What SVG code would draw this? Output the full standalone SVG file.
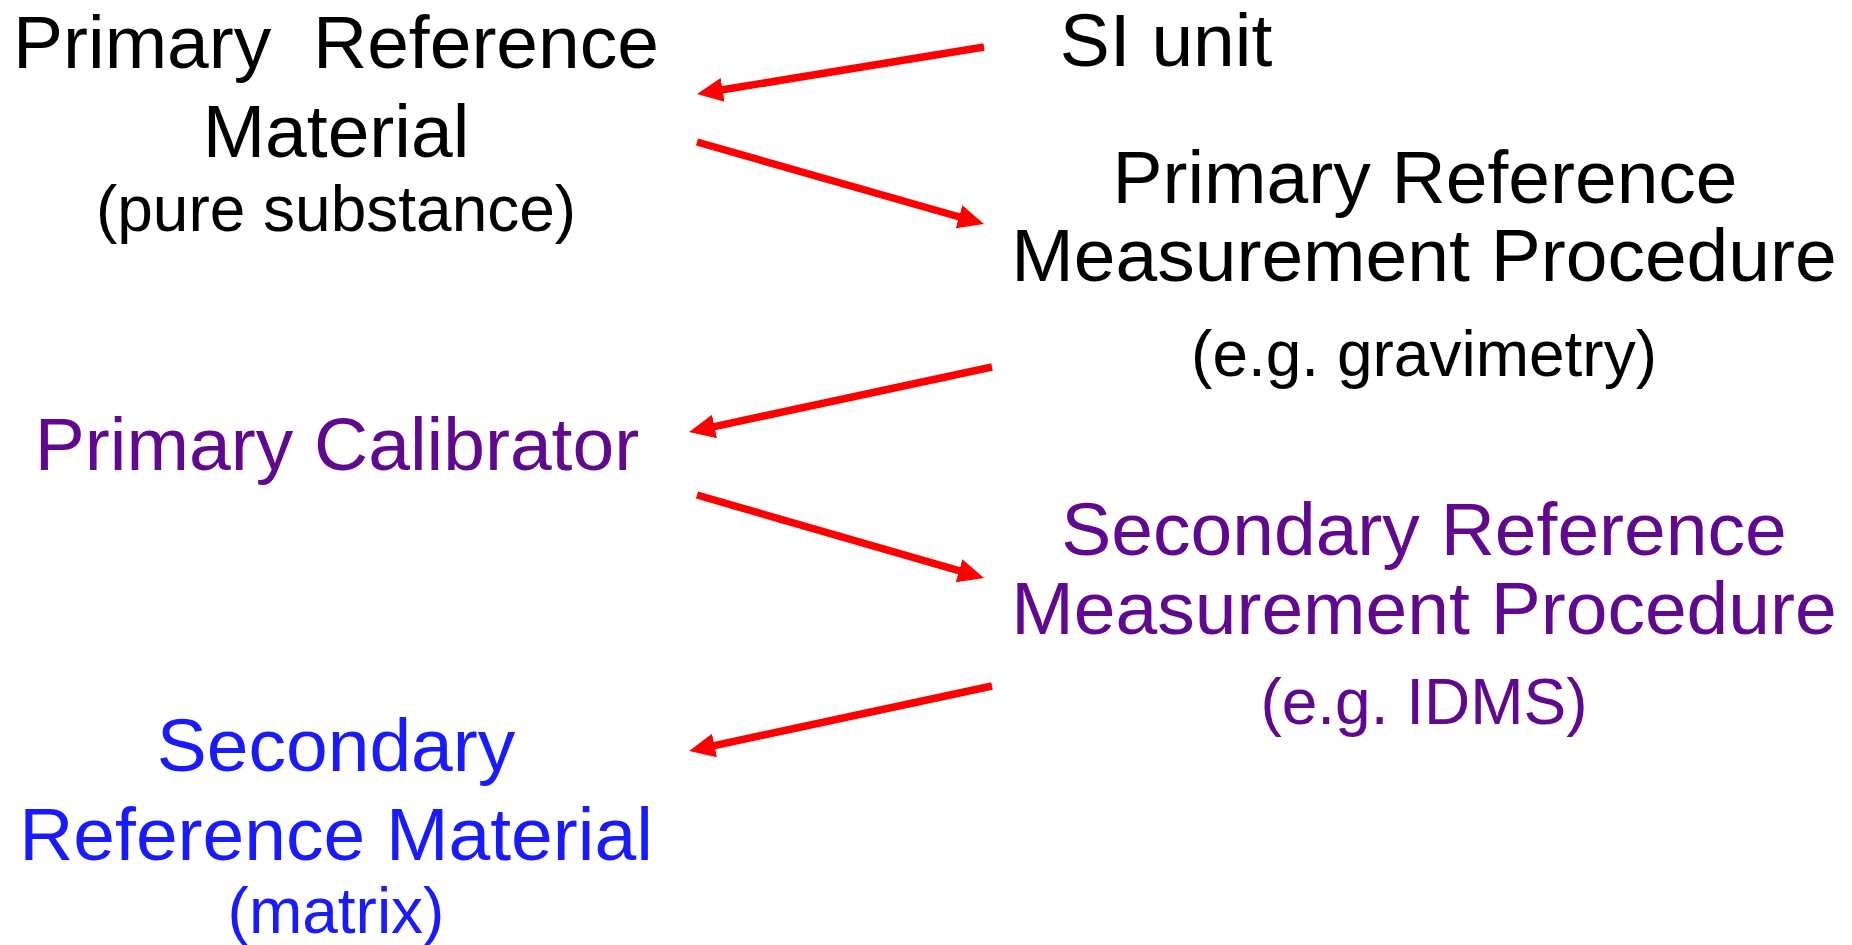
<svg xmlns="http://www.w3.org/2000/svg" width="1852" height="945" viewBox="0 0 1852 945">
<style>
text{font-family:"Liberation Sans",Arial,sans-serif;text-anchor:middle}
.big{font-size:75px}
.small{font-size:64px}
.k{fill:#000}
.p{fill:#600890}
.b{fill:#1a1aff}
.arr{stroke:#ff0000;stroke-width:7.5;fill:none;marker-end:url(#ah)}
</style>
<defs>
<marker id="ah" markerUnits="userSpaceOnUse" markerWidth="26" markerHeight="24" refX="6" refY="12" orient="auto">
<path d="M0,0 L26,12 L0,24 z" fill="#ff0000"/>
</marker>
</defs>
<rect width="1852" height="945" fill="#fff"/>
<g id="primary-reference-material">
<text class="big k" x="336" y="68" xml:space="preserve">Primary  Reference</text>
<text class="big k" x="336" y="157">Material</text>
<text class="small k" x="336" y="231">(pure substance)</text>
</g>
<g id="si-unit">
<text class="big k" x="1166" y="66">SI unit</text>
</g>
<g id="primary-reference-measurement-procedure">
<text class="big k" x="1425" y="203">Primary Reference</text>
<text class="big k" x="1424" y="281">Measurement Procedure</text>
<text class="small k" x="1424" y="376">(e.g. gravimetry)</text>
</g>
<g id="primary-calibrator">
<text class="big p" x="337" y="470">Primary Calibrator</text>
</g>
<g id="secondary-reference-measurement-procedure">
<text class="big p" x="1424" y="555">Secondary Reference</text>
<text class="big p" x="1424" y="634">Measurement Procedure</text>
<text class="small p" x="1424" y="724">(e.g. IDMS)</text>
</g>
<g id="secondary-reference-material">
<text class="big b" x="336" y="771">Secondary</text>
<text class="big b" x="336" y="860">Reference Material</text>
<text class="small b" x="336" y="933">(matrix)</text>
</g>
<g id="connectors">
<line class="arr" x1="984" y1="47" x2="716.7" y2="90.8"/>
<line class="arr" x1="697" y1="142" x2="964.8" y2="218.5"/>
<line class="arr" x1="992" y1="367" x2="708.6" y2="427.8"/>
<line class="arr" x1="697" y1="495" x2="964.8" y2="572.4"/>
<line class="arr" x1="992" y1="686" x2="708.6" y2="746.8"/>
</g>
</svg>
